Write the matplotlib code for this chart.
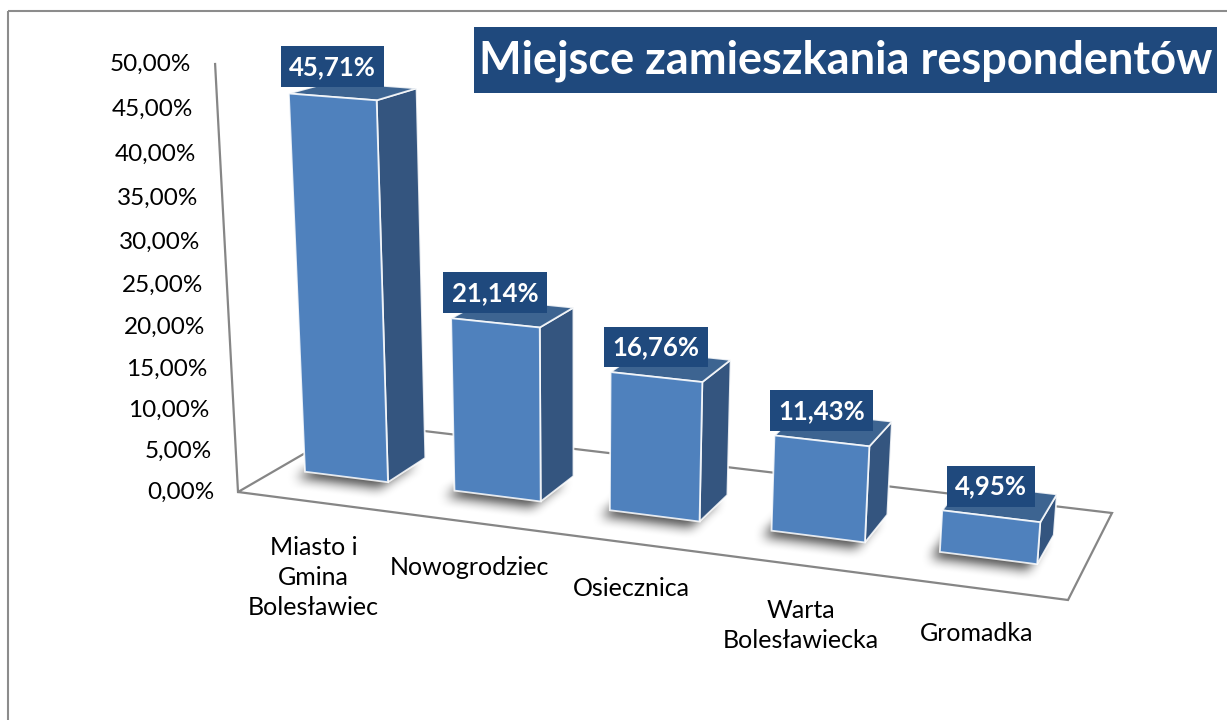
# Import libraries
import numpy as np
import matplotlib
matplotlib.use("Agg")
import matplotlib.pyplot as plt
from matplotlib.patches import Rectangle, Polygon
from matplotlib.path import Path

# Data
categories = ["Miasto i\nGmina\nBolesławiec", "Nowogrodziec", "Osiecznica",
              "Warta\nBolesławiecka", "Gromadka"]
values = [45.71, 21.14, 16.76, 11.43, 4.95]
value_labels = ["45,71%", "21,14%", "16,76%", "11,43%", "4,95%"]
y_ticks = [0, 5, 10, 15, 20, 25, 30, 35, 40, 45, 50]
y_tick_labels = ["0,00%", "5,00%", "10,00%", "15,00%", "20,00%", "25,00%",
                 "30,00%", "35,00%", "40,00%", "45,00%", "50,00%"]
title = "Miejsce zamieszkania respondentów"

# Layout of the 3D scene (figure pixels, y down)
W, H = 1227, 720
floor_world = [(0, 0), (5, 0), (5, 1), (0, 1)]          # (x slot, depth)
floor_px = [(238, 492), (1068, 600), (1112, 513), (357, 423)]
vert_vp = (576, 6810)        # vanishing point of vertical lines
axis_top_y = 64              # pixel row of the 50% end of the axis
y_max = 50
gap = 0.22                   # side gap of a bar inside its slot
shift = -0.04                # bars sit a little left of slot centre
z_front, z_back = 0.32, 0.66

FONT = "Lato"
front_col = "#4F81BD"
side_col = "#34557F"
top_col = "#3D6491"
label_bg = "#1F497D"
grid_col = "#868686"


def homography(src, dst):
    rows, rhs = [], []
    for (x, y), (u, v) in zip(src, dst):
        rows.append([x, y, 1, 0, 0, 0, -u * x, -u * y])
        rows.append([0, 0, 0, x, y, 1, -v * x, -v * y])
        rhs += [u, v]
    h = np.linalg.solve(np.array(rows, float), np.array(rhs, float))
    return np.append(h, 1).reshape(3, 3)


Hm = homography(floor_world, floor_px)
p_x, p_z, p_0 = Hm[:, 0], Hm[:, 1], Hm[:, 2]
vp = np.array([vert_vp[0], vert_vp[1], 1.0])
k = (axis_top_y * p_0[2] - p_0[1]) / (y_max * vp[1] - axis_top_y * y_max)
p_y = k * vp


def proj(x, y, z):
    w = p_x * x + p_y * y + p_z * z + p_0
    return w[0] / w[2], w[1] / w[2]


def blur(a, r, axis):
    kern = np.ones(2 * r + 1) / (2 * r + 1)
    return np.apply_along_axis(lambda m: np.convolve(m, kern, mode="same"), axis, a)


fig = plt.figure(figsize=(W / 100, H / 100), dpi=100)
ax = fig.add_axes([0, 0, 1, 1])
ax.set_xlim(0, W)
ax.set_ylim(H, 0)
ax.axis("off")

# chart border
ax.add_patch(Rectangle((8, 11), W + 20, H, fill=False, edgecolor="#8C8C8C", lw=1.5))

# floor outline
floor = [proj(x, 0, z) for x, z in floor_world]
ax.add_patch(Polygon(floor, closed=True, facecolor="white", edgecolor=grid_col, lw=1.6, zorder=1))

# vertical axis with tick labels
a0 = proj(0, 0, 0)
a1 = proj(0, y_max, 0)
ax.plot([a0[0], a1[0]], [a0[1], a1[1]], color=grid_col, lw=1.6, zorder=1)
for t, lab in zip(y_ticks, y_tick_labels):
    px, py = proj(0, t, 0)
    ax.text(px - 24, py, lab, ha="right", va="center", fontsize=17.5,
            family=FONT, color="black")

# soft shadows under the bars
yy, xx = np.mgrid[0:H, 0:W]
pts = np.column_stack([xx.ravel() + 0.5, yy.ravel() + 0.5])
mask = np.zeros(H * W, bool)
for i, v in enumerate(values):
    x0, x1 = i + gap + shift, i + 1 - gap + shift
    foot = [proj(x0, 0, z_front), proj(x1, 0, z_front),
            proj(x1, 0, z_back), proj(x0, 0, z_back)]
    foot = [(fx - 9, fy + 6) for fx, fy in foot]
    mask |= Path(foot).contains_points(pts)
shade = mask.reshape(H, W).astype(float)
for _ in range(2):
    shade = blur(blur(shade, 6, 0), 6, 1)
rgba = np.zeros((H, W, 4))
rgba[..., 3] = shade * 0.7
ax.imshow(rgba, extent=(0, W, H, 0), zorder=2, interpolation="bilinear", aspect="auto")

# bars
for i, v in enumerate(values):
    x0, x1 = i + gap + shift, i + 1 - gap + shift
    front = [proj(x0, 0, z_front), proj(x1, 0, z_front),
             proj(x1, v, z_front), proj(x0, v, z_front)]
    side = [proj(x1, 0, z_front), proj(x1, 0, z_back),
            proj(x1, v, z_back), proj(x1, v, z_front)]
    top = [proj(x0, v, z_front), proj(x1, v, z_front),
           proj(x1, v, z_back), proj(x0, v, z_back)]
    for face, col in [(side, side_col), (top, top_col), (front, front_col)]:
        ax.add_patch(Polygon(face, closed=True, facecolor=col,
                             edgecolor=(1, 1, 1, 0.85), lw=1.3, zorder=3))

    # value label box
    cx, cy = proj((x0 + x1) / 2, v, z_front)
    ax.text(cx, cy - 18, value_labels[i], ha="center", va="bottom",
            fontsize=18.5, fontweight="bold", family=FONT, color="white", zorder=5,
            bbox=dict(boxstyle="square,pad=0.33", facecolor=label_bg, edgecolor="none"))

    # category label
    lx, ly = proj(i + 0.5, 0, 0)
    ax.text(lx, ly + 34, categories[i], ha="center", va="top", fontsize=18,
            family=FONT, color="black", linespacing=1.38)

# title
ax.add_patch(Rectangle((474, 27), 1217 - 474, 66, facecolor=label_bg, edgecolor="none", zorder=4))
ax.text((474 + 1217) / 2, 61, title, ha="center", va="center", fontsize=32.5,
        fontweight="bold", family=FONT, color="white", zorder=5)

fig.savefig("out.png", dpi=100)
